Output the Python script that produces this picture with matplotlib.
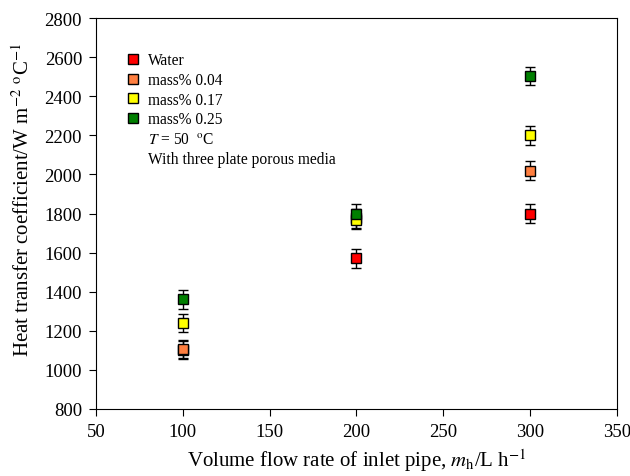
import matplotlib.pyplot as plt
from matplotlib.lines import Line2D

plt.rcParams['font.family'] = ['Liberation Serif', 'DejaVu Serif']
plt.rcParams['mathtext.fontset'] = 'stix'

# data
flow = [100, 200, 300]
water = [1100, 1570, 1800]
m004 = [1105, 1775, 2020]
m017 = [1240, 1767, 2200]
m025 = [1360, 1800, 2505]
err = 47

series = [
    ('Water', water, '#ff0000'),
    ('mass% 0.04', m004, '#ff7f40'),
    ('mass% 0.17', m017, '#ffff00'),
    ('mass% 0.25', m025, '#007f00'),
]

fig = plt.figure(figsize=(6.3, 4.77), dpi=100)
ax = fig.add_axes([96 / 630, 1 - 409.7 / 477, (616.7 - 96) / 630, (409.7 - 19.3) / 477])

handles = []
for name, vals, col in series:
    ax.errorbar(flow, vals, yerr=err, fmt='s', color=col, mec='black', mew=1.0,
                ms=6.5, ecolor='black', elinewidth=1.0, capsize=3.6, capthick=1.0)
    handles.append(Line2D([], [], ls='none', marker='s', mfc=col, mec='black',
                          mew=1.0, ms=6.5, label=name))

handles.append(Line2D([], [], ls='none', label='$T$ = 50  $^{\\rm o}$C'))
handles.append(Line2D([], [], ls='none', label='With three plate porous media'))

ax.legend(handles=handles, loc='upper left', bbox_to_anchor=(0.048, 0.929),
          frameon=False, fontsize=11.2, handlelength=0.8, handletextpad=0.55,
          labelspacing=0.24, borderaxespad=0)

ax.set_xlim(50, 350)
ax.set_ylim(800, 2800)
ax.set_xticks(range(50, 351, 50))
ax.set_yticks(range(800, 2801, 200))
ax.tick_params(direction='out', length=5, labelsize=13.5, pad=5, top=False, right=False)

ax.set_xlabel('Volume flow rate of inlet pipe, $m_{\\rm h}$/L h$^{-1}$', fontsize=15, labelpad=5)
ax.set_ylabel('Heat transfer coefficient/W m$^{-2}$ $^{\\rm o}$C$^{-1}$', fontsize=15)
ax.yaxis.set_label_coords(-0.119, 0.537)

plt.savefig('out.png', dpi=100)
